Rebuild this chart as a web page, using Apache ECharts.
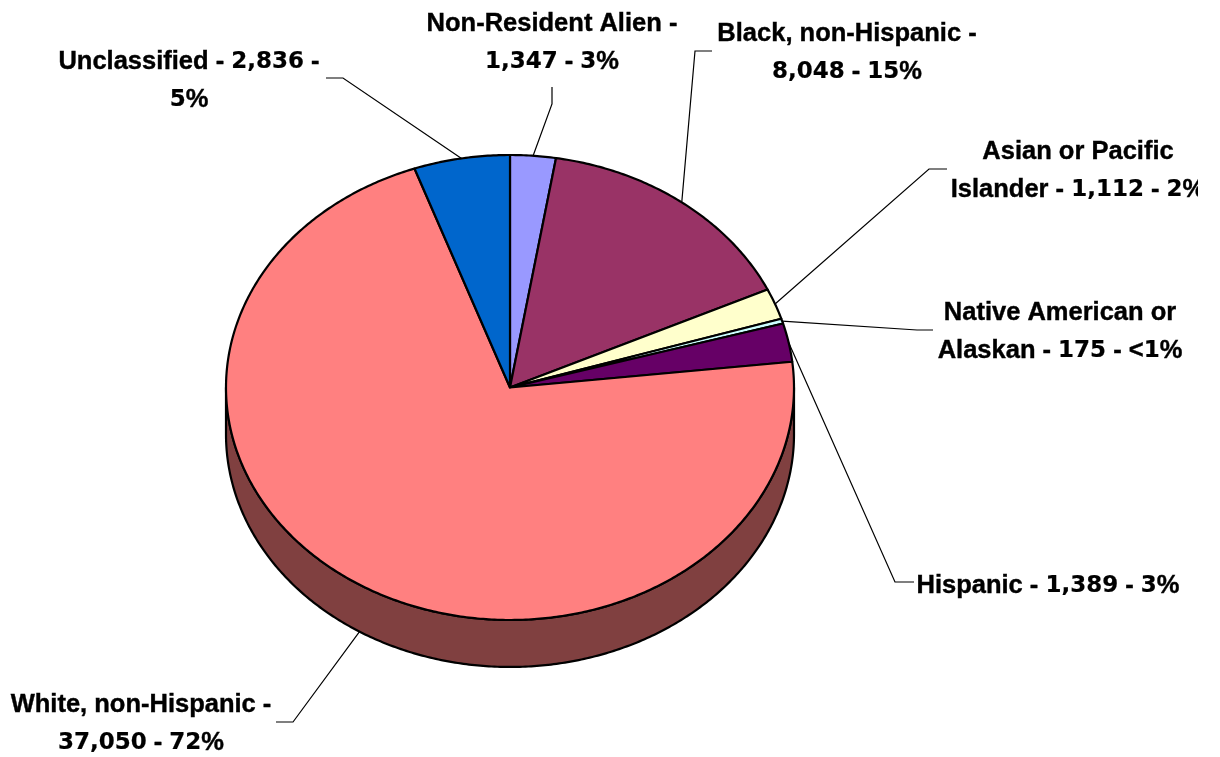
<!DOCTYPE html>
<html>
<head>
<meta charset="utf-8">
<style>html,body{margin:0;padding:0;background:#fff}#c{width:1198px;height:757px;overflow:hidden}</style>
<script src="https://cdn.jsdelivr.net/npm/echarts@6/dist/echarts.min.js"></script>
</head>
<body>
<div id="c"></div>
<script>
const categories = ['Non-Resident Alien','Black, non-Hispanic','Asian or Pacific Islander','Native American or Alaskan','Hispanic','White, non-Hispanic','Unclassified'];
const values = [1347,8048,1112,175,1389,37050,2836];
const colors = ['#9999FF','#993366','#FFFFCC','#CCFFFF','#660066','#FF8080','#0066CC'];
const labelLines = [
  ['Non-Resident Alien -','1,347 - 3%'],
  ['Black, non-Hispanic -','8,048 - 15%'],
  ['Asian or Pacific','Islander - 1,112 - 2%'],
  ['Native American or','Alaskan - 175 - <1%'],
  ['Hispanic - 1,389 - 3%'],
  ['White, non-Hispanic -','37,050 - 72%'],
  ['Unclassified - 2,836 -','5%']
];
// layout: text centre, first line y, leader elbow and end (pixels)
const labelCx = [552,847,1078,1060,1048,141,189];
const labelY  = [24,34,152,313,586,705,62];
const elbows  = [[552,104,552,87],[695,51,712,51],[929,169,947,169],[917,330,933,330],[895,582,914,582],[293,722,276,722],[343,78,326,78]];
const DEPTH = 0.202, FONT = '"Liberation Sans"', FS = 25.5, LH = 38;

const total = values.reduce((a,b)=>a+b,0);
const cum = []; values.reduce((a,v,i)=>(cum[i]=a,a+v),0);
const ang = v => v/total*2*Math.PI;
const pt = (api,t,dy) => api.coord([Math.sin(t), Math.cos(t)-(dy||0)]);
function arc(api,a,b,dy){ const n=Math.max(2,Math.ceil((b-a)/0.01)),o=[]; for(let i=0;i<=n;i++) o.push(pt(api,a+(b-a)*i/n,dy)); return o; }

const text = [];
labelLines.forEach((ls,i)=>ls.forEach((s,j)=>text.push({
  type:'text',x:labelCx[i],y:labelY[i]+j*LH,z:10,
  style:{
    text:s.replace(/\d[\d,]*/g,m=>'{d|'+m+'}'),
    fill:'#000',font:'bold '+FS+'px '+FONT,align:'center',verticalAlign:'middle',
    stroke:'#000',lineWidth:0.4,
    rich:{d:{font:'bold 23px "DejaVu Sans"',fill:'#000',stroke:'#000',lineWidth:0.2}}
  }
})));

const chart = echarts.init(document.getElementById('c'));
chart.setOption({
  animation:false,
  backgroundColor:'#fff',
  grid:{left:226,top:155,width:568,height:465},
  xAxis:{type:'value',min:-1,max:1,show:false},
  yAxis:{type:'value',min:-1,max:1,show:false},
  graphic:text,
  series:[
    {type:'custom',silent:true,clip:false,z:1,data:[values[5]],
     renderItem(p,api){
       const a=Math.PI/2,b=Math.PI*1.5;
       return {type:'polygon',shape:{points:arc(api,a,b,0).concat(arc(api,a,b,DEPTH).reverse())},
         style:{fill:'#804040',stroke:'#000',lineWidth:2.2,lineJoin:'round'}};
     }},
    {type:'custom',silent:true,clip:false,z:2,data:values,
     renderItem(p,api){
       const i=p.dataIndex,a=ang(cum[i]),b=ang(cum[i]+api.value(0));
       return {type:'polygon',shape:{points:[api.coord([0,0])].concat(arc(api,a,b))},
         style:{fill:colors[i],stroke:'#000',lineWidth:2.2,lineJoin:'round'}};
     }},
    {type:'custom',silent:true,clip:false,z:3,data:values,
     renderItem(p,api){
       const i=p.dataIndex,m=ang(cum[i]+api.value(0)/2),e=elbows[i];
       const s=pt(api,m,i===5?DEPTH:0);
       return {type:'polyline',shape:{points:[s,[e[0],e[1]],[e[2],e[3]]]},
         style:{fill:'none',stroke:'#000',lineWidth:1.2}};
     }}
  ]
});
</script>
</body>
</html>
